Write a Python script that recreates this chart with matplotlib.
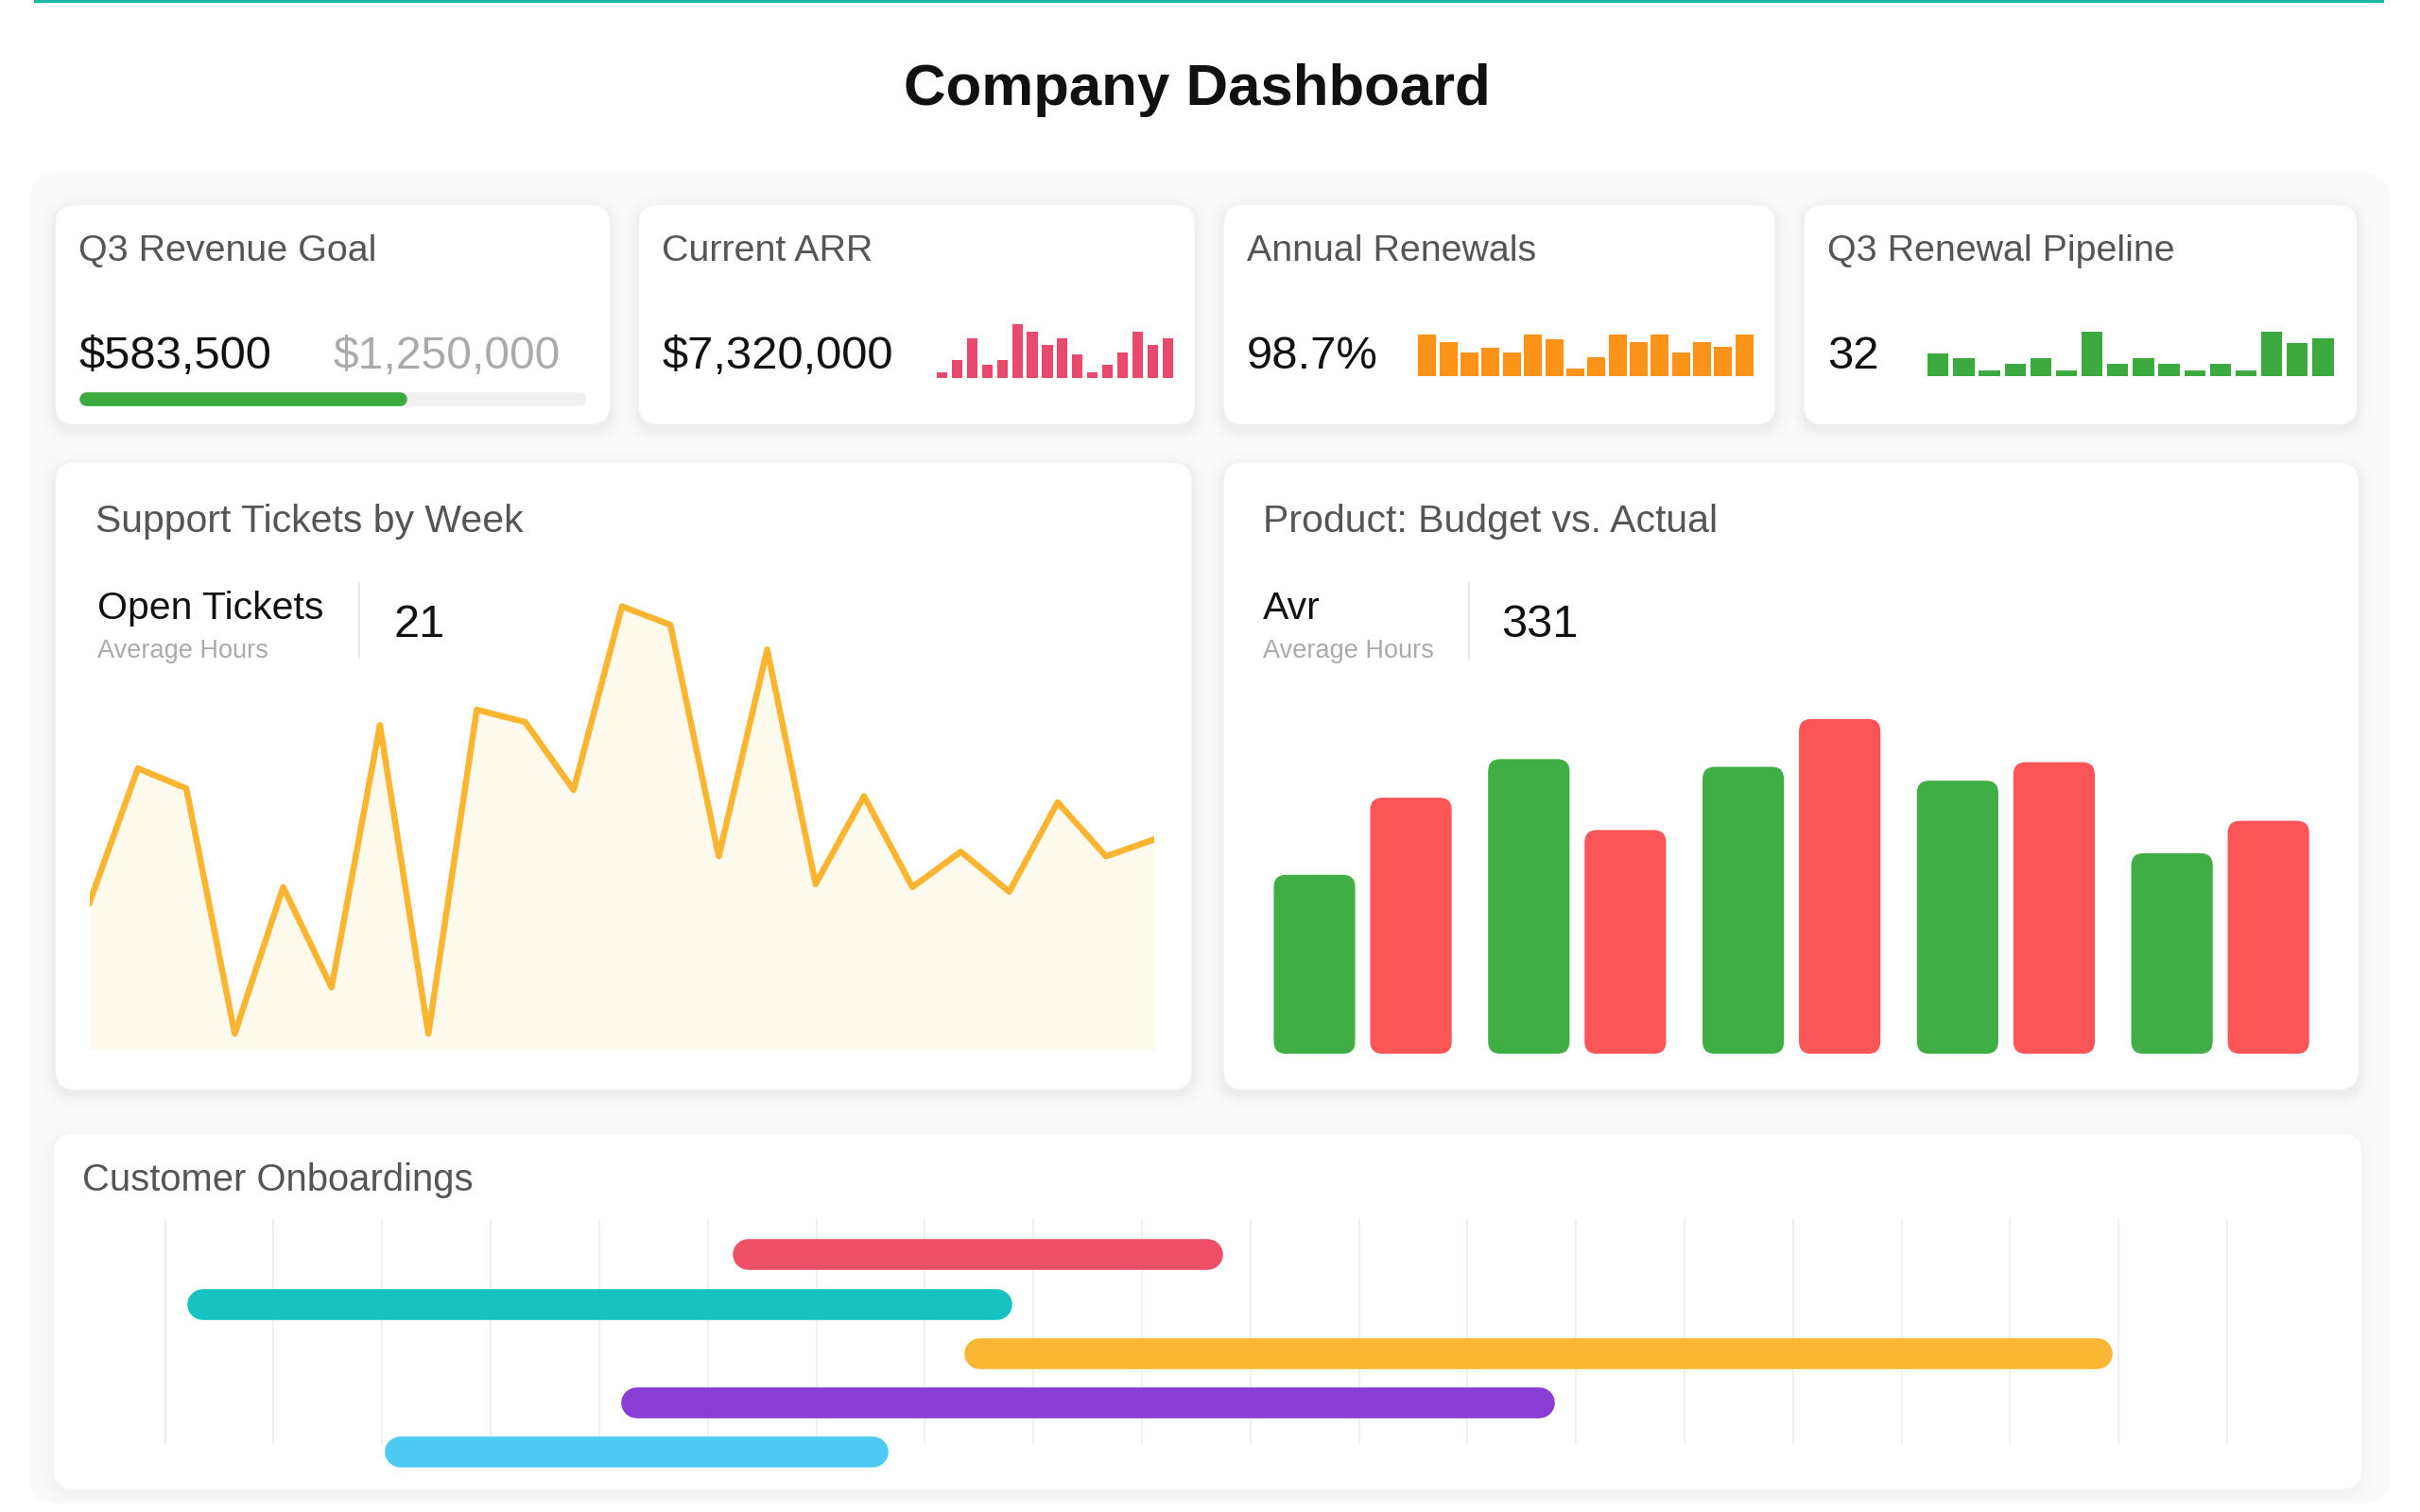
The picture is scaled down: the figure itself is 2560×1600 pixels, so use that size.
import matplotlib
matplotlib.use("Agg")
import matplotlib.pyplot as plt
from matplotlib.patches import FancyBboxPatch
import numpy as np

plt.rcParams['font.family'] = ['Liberation Sans', 'DejaVu Sans']

# layout is measured in a 1568x980 grid, rendered at 2560x1600
W, H = 1568, 980

# ---- data ----
revenue_now = "$583,500"
revenue_goal = "$1,250,000"
revenue_progress = 0.647   # length of the green bar as drawn

arr_value = "$7,320,000"
arr_bars = [1, 3.3, 7.3, 2.4, 3.3, 10, 8.5, 6.2, 7.3, 4.4, 1, 2.4, 4.8, 8.5, 6.2, 7.3]

renewal_rate = "98.7%"
renewal_bars = [10, 8.3, 5.8, 7, 5.8, 10, 9, 2, 4.6, 10, 8.3, 10, 5.8, 8.3, 7.1, 10]

pipeline_count = "32"
pipeline_bars = [5.2, 4.1, 1.4, 2.9, 4, 1.4, 10, 2.9, 4, 2.9, 1.4, 2.9, 1.4, 10, 7.4, 8.6]

ticket_values = [9.5, 18.2, 16.9, 1, 10.5, 4, 21, 1, 22, 21.2, 16.8, 28.7,
                 27.5, 12.5, 25.9, 10.7, 16.4, 10.5, 12.8, 10.2, 16, 12.5, 13.6]
open_tickets = "21"

budget = [116, 191, 186, 177, 130]
actual = [166, 145, 217, 189, 151]
avr_value = "331"

onboard_start = [5.23, 0.2, 7.36, 4.2, 2.02]
onboard_end = [9.74, 7.8, 17.94, 12.8, 6.66]
onboard_colors = ['#ee5068', '#17c3bf', '#fbb733', '#8a3dd3', '#4dcbf5']

TITLE_C = '#555555'
VALUE_C = '#111111'
MUTED_C = '#aaaaaa'

fig = plt.figure(figsize=(25.6, 16), dpi=100)
fig.patch.set_facecolor('white')
bg = fig.add_axes([0, 0, 1, 1])
bg.set_xlim(0, W)
bg.set_ylim(H, 0)
bg.axis('off')


def sub(x0, y0, x1, y1):
    ax = fig.add_axes([x0 / W, 1 - y1 / H, (x1 - x0) / W, (y1 - y0) / H])
    ax.axis('off')
    return ax


def card(x0, y0, x1, y1, shade=1.0):
    # soft shadow
    for k, a in [(9, 0.007), (6, 0.010), (4, 0.013), (2, 0.016)]:
        bg.add_patch(FancyBboxPatch((x0 - k, y0 - k + 3), x1 - x0 + 2 * k, y1 - y0 + 2 * k,
                                    boxstyle="round,pad=0,rounding_size=%d" % (12 + k),
                                    fc='black', ec='none', alpha=a * shade))
    bg.add_patch(FancyBboxPatch((x0, y0), x1 - x0, y1 - y0,
                                boxstyle="round,pad=0,rounding_size=12", fc='white', ec='none'))


def spark(x0, y0, x1, y1, vals, color, width):
    ax = sub(x0, y0, x1, y1)
    n = len(vals)
    ax.bar(np.arange(n), vals, width=width, color=color)
    ax.set_xlim(-width / 2, n - 1 + width / 2)
    ax.set_ylim(0, max(vals))
    return ax


# page
bg.plot([22, 1545], [0.8, 0.8], color='#1ab8a6', lw=3, solid_capstyle='butt')
bg.text(775.5, 68, "Company Dashboard", ha='center', va='baseline',
        fontsize=44.5, fontweight='bold', color=VALUE_C)
bg.add_patch(FancyBboxPatch((20, 112), 1528, 862, boxstyle="round,pad=0,rounding_size=16",
                            fc='#fafafa', ec='none'))

# KPI cards
kpi_x = [(36, 395), (414, 774), (793, 1150), (1169, 1527)]
kpi_titles = ["Q3 Revenue Goal", "Current ARR", "Annual Renewals", "Q3 Renewal Pipeline"]
kpi_values = [revenue_now, arr_value, renewal_rate, pipeline_count]
for (x0, x1), t, v in zip(kpi_x, kpi_titles, kpi_values):
    card(x0, 133, x1, 275)
    bg.text(x0 + 15, 169, t, fontsize=28.4, color=TITLE_C, va='baseline')
    bg.text(x0 + 15, 239, v, fontsize=35.3, color=VALUE_C, va='baseline')
bg.text(216, 239, revenue_goal, fontsize=34.6, color=MUTED_C, va='baseline')

pax = sub(51, 252, 380, 265)
pax.plot([0.014, 0.986], [0, 0], color='#f0f0f0', lw=10.5, solid_capstyle='round')
pax.plot([0.014, revenue_progress - 0.014], [0, 0], color='#3aab3e', lw=10.5,
         solid_capstyle='round')
pax.set_xlim(0, 1)
pax.set_ylim(-1, 1)

spark(607, 210, 760, 245, arr_bars, '#e9496d', 0.7)
spark(919, 217, 1136, 244, renewal_bars, '#fb9318', 0.85)
spark(1249, 215, 1512, 244, pipeline_bars, '#3daa3f', 0.82)

# support tickets
card(36, 300, 772, 706)
bg.text(62, 345, "Support Tickets by Week", fontsize=29.5, color=TITLE_C, va='baseline')
bg.text(63, 401, "Open Tickets", fontsize=29.5, color=VALUE_C, va='baseline')
bg.text(63, 426, "Average Hours", fontsize=19.5, color=MUTED_C, va='baseline')
bg.plot([233, 233], [378, 426], color='#e8e8e8', lw=1.5)
bg.text(255, 413, open_tickets, fontsize=35, color=VALUE_C, va='baseline')

lax = sub(58, 380, 748, 680)
weeks = np.arange(len(ticket_values))
lax.fill_between(weeks, ticket_values, color='#fefaee')
lax.plot(weeks, ticket_values, color='#fbb531', lw=4.7)
lax.set_xlim(0, len(ticket_values) - 1)
lax.set_ylim(0, 30)

# budget vs actual
card(793, 300, 1528, 706)
bg.text(818, 345, "Product: Budget vs. Actual", fontsize=29.5, color=TITLE_C, va='baseline')
bg.text(818, 401, "Avr", fontsize=29.5, color=VALUE_C, va='baseline')
bg.text(818, 426, "Average Hours", fontsize=19.5, color=MUTED_C, va='baseline')
bg.plot([952, 952], [378, 426], color='#e8e8e8', lw=1.5)
bg.text(973, 413, avr_value, fontsize=35, color=VALUE_C, va='baseline')

bx0, bx1, by0, by1 = 825.3, 1496.2, 455, 683
bax = sub(bx0, by0, bx1, by1)
groups = np.arange(len(budget))
b1 = bax.bar(groups - 0.225, budget, width=0.38, color='#3fae44')
b2 = bax.bar(groups + 0.225, actual, width=0.38, color='#fc5558')
bax.set_xlim(-0.415, 4.415)
bax.set_ylim(0, 228)
aspect = ((bx1 - bx0) / 4.83) / ((by1 - by0) / 228)
for b in list(b1) + list(b2):
    b.set_visible(False)
    bax.add_patch(FancyBboxPatch((b.get_x(), 0), b.get_width(), b.get_height(),
                                 boxstyle="round,pad=0,rounding_size=%f" % (8 / aspect),
                                 mutation_aspect=aspect, fc=b.get_facecolor(), ec='none'))

# onboardings
card(35, 735, 1530, 965, shade=0.5)
bg.text(53, 772, "Customer Onboardings", fontsize=28.8, color=TITLE_C, va='baseline')
gax = sub(107, 790, 1443, 955)
gax.set_xlim(0, 19)
gax.set_ylim(4.44, -0.72)
gax.vlines(np.arange(20), -0.72, 3.85, color='#ececec', lw=1.2, clip_on=False)
cap = 10 / ((1443 - 107) / 19)
for row, (s, e, c) in enumerate(zip(onboard_start, onboard_end, onboard_colors)):
    gax.plot([s + cap, e - cap], [row, row], color=c, lw=23.5, solid_capstyle='round',
             clip_on=False)

fig.savefig("out.png", dpi=100)
